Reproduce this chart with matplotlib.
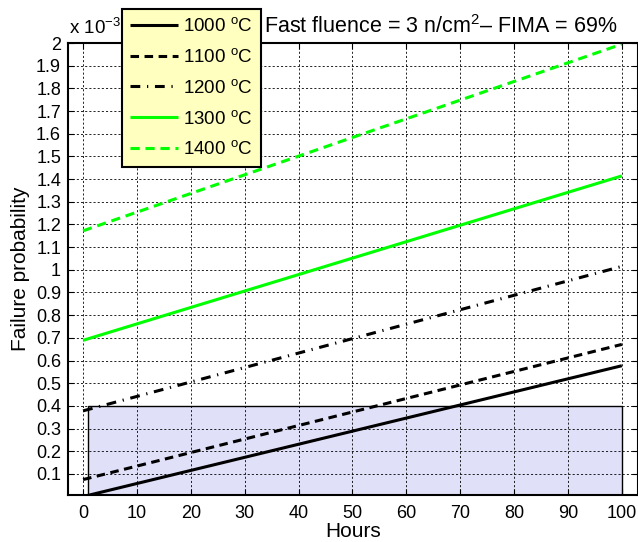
import matplotlib
matplotlib.use("Agg")
import matplotlib.pyplot as plt
from matplotlib.patches import Rectangle
from matplotlib.ticker import FuncFormatter

# hours (lines are straight, read at the ends)
hours = [0, 100]
p1000 = [0.000, 0.577]
p1100 = [0.075, 0.671]
p1200 = [0.378, 1.015]
p1300 = [0.689, 1.414]
p1400 = [1.172, 1.995]
labels = ["1000 $^{\\mathrm{o}}$C", "1100 $^{\\mathrm{o}}$C", "1200 $^{\\mathrm{o}}$C",
          "1300 $^{\\mathrm{o}}$C", "1400 $^{\\mathrm{o}}$C"]

# shaded region (hours, probability x 1e-3)
box_x = [1, 100]
box_y = [0, 0.4]

xticks = list(range(0, 101, 10))
yticks = [i / 10 for i in range(1, 21)]

plt.rcParams['font.family'] = ['Liberation Sans', 'DejaVu Sans']
plt.rcParams['mathtext.fontset'] = 'custom'
plt.rcParams['mathtext.rm'] = 'Liberation Sans'
plt.rcParams['mathtext.it'] = 'Liberation Sans:italic'

W, H = 638, 542
fig = plt.figure(figsize=(W / 100, H / 100), dpi=100)
ax = fig.add_axes([68 / W, 1 - 495 / H, (W - 68) / W, (495 - 43) / H])

ax.add_patch(Rectangle((box_x[0], box_y[0]), box_x[1] - box_x[0], box_y[1] - box_y[0],
                       facecolor='#e0e0f8', edgecolor='black', linewidth=1.0, zorder=0.4))

l1, = ax.plot(hours, p1000, color='black', lw=2.2, solid_capstyle='butt')
l2, = ax.plot(hours, p1100, color='black', lw=2.2, dashes=(2.8, 1.8))
l3, = ax.plot(hours, p1200, color='black', lw=2.2, dashes=(3.2, 2.2, 0.4, 2.2))
l4, = ax.plot(hours, p1300, color='#00ff00', lw=2.2, solid_capstyle='butt')
l5, = ax.plot(hours, p1400, color='#00ff00', lw=2.2, dashes=(3.0, 1.9))

ax.set_xlim(-2.8, 103)
ax.set_ylim(0.007, 2.0)
ax.set_xticks(xticks)
ax.set_yticks(yticks)
ax.yaxis.set_major_formatter(FuncFormatter(lambda v, p: "%g" % round(v, 1)))
ax.tick_params(direction='in', labelsize=13, length=4, width=0.8, top=True, right=True)
ax.tick_params(axis='x', pad=7)
ax.tick_params(axis='y', pad=5)
ax.set_axisbelow(True)
ax.grid(True, color='black', linestyle=(0, (2.5, 2.5)), linewidth=0.6)
for s in ax.spines.values():
    s.set_linewidth(1.5)

ax.set_xlabel("Hours", fontsize=15, labelpad=0)
ax.set_ylabel("Failure probability", fontsize=15, labelpad=4)

fig.text(69 / W, 1 - 34 / H, "x 10$^{-3}$", fontsize=13.5, ha='left', va='baseline')
fig.text(264 / W, 1 - 33 / H, "Fast fluence = 3 n/cm$^2$\u2013 FIMA = 69%", fontsize=15.5,
         ha='left', va='baseline')

leg = fig.legend([l1, l2, l3, l4, l5], labels, loc='upper left',
                 bbox_to_anchor=(122 / W, 1 - 9 / H), fontsize=13.5, frameon=True,
                 fancybox=False, handlelength=2.55, handletextpad=0.25,
                 labelspacing=0.68, borderpad=0.45, borderaxespad=0)
leg.get_frame().set_facecolor('#ffffbf')
leg.get_frame().set_edgecolor('black')
leg.get_frame().set_linewidth(1.5)
leg.get_frame().set_alpha(1)

fig.savefig("out.png", dpi=100)
